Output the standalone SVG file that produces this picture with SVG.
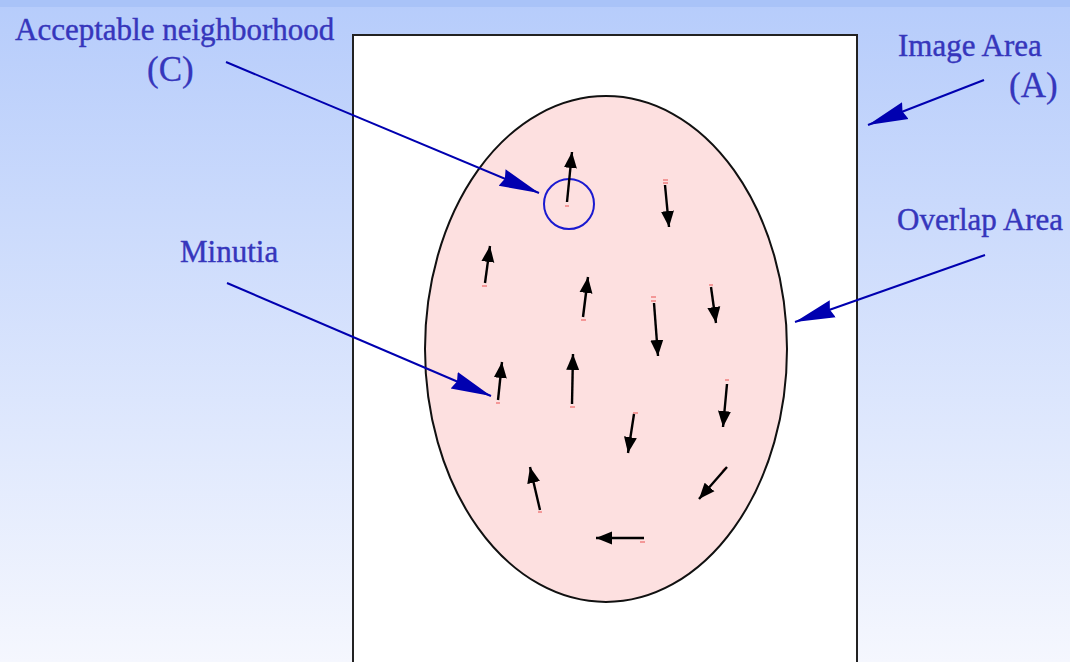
<svg xmlns="http://www.w3.org/2000/svg" width="1070" height="662" viewBox="0 0 1070 662">
<style>
.lbl{font-family:"Liberation Serif","Times New Roman",serif;fill:#3636bc;stroke:#3636bc;stroke-width:0.4;font-size:31px}
.par{font-family:"Liberation Serif","Times New Roman",serif;fill:#3636bc;stroke:#3636bc;stroke-width:0.3;font-size:35px}
.conn{stroke:#0000b0;stroke-width:2;fill:none;marker-end:url(#bigHead)}
.min{stroke:#000;stroke-width:2.4;fill:none;marker-end:url(#minHead)}
.tail{stroke:#f08080;stroke-width:1.5;fill:none}
</style>
<defs>
<linearGradient id="bg" x1="0" y1="0" x2="0" y2="1">
<stop offset="0" stop-color="#b6ccfb"/>
<stop offset="1" stop-color="#f5f7fe"/>
</linearGradient>
<marker id="bigHead" viewBox="0 0 40 20" refX="40" refY="10" markerWidth="40" markerHeight="20" markerUnits="userSpaceOnUse" orient="auto">
<path d="M0,1 L40,10 L0,19 L3,10 z" fill="#0000b0"/>
</marker>
<marker id="minHead" viewBox="0 0 16 14" refX="16" refY="7" markerWidth="16" markerHeight="14" markerUnits="userSpaceOnUse" orient="auto">
<path d="M0,0.5 L16,7 L0,13.5 z" fill="#000"/>
</marker>
</defs>
<rect x="0" y="0" width="1070" height="662" fill="url(#bg)"/>
<rect x="0" y="0" width="1070" height="7" fill="#a9c3f8"/>
<g id="image-area">
<rect x="353" y="35" width="504" height="640" fill="#fff" stroke="#222" stroke-width="2"/>
</g>
<g id="overlap-area">
<ellipse cx="606" cy="349" rx="181" ry="253" fill="#fde0e0" stroke="#111" stroke-width="2"/>
</g>
<g id="neighborhood">
<circle cx="569" cy="204" r="25" fill="none" stroke="#1a1ad0" stroke-width="2"/>
</g>
<g id="minutiae">
<path class="tail" d="M565,206 h4"/><path class="min" d="M567,202 L572,152"/>
<path class="tail" d="M663,180 h5 M663,183 h5"/><path class="min" d="M665,185 L669,227"/>
<path class="tail" d="M482,286 h5"/><path class="min" d="M485,283 L490,246"/>
<path class="tail" d="M581,320 h5"/><path class="min" d="M583,317 L588,277"/>
<path class="tail" d="M651,297 h5 M651,301 h5"/><path class="min" d="M654,303 L658,356"/>
<path class="tail" d="M709,285 h4"/><path class="min" d="M711,287 L716,323"/>
<path class="tail" d="M496,403 h4"/><path class="min" d="M498,400 L502,362"/>
<path class="tail" d="M570,407 h5"/><path class="min" d="M572,404 L573,354"/>
<path class="tail" d="M633,413 h5"/><path class="min" d="M634,414 L628,453"/>
<path class="tail" d="M725,380 h4"/><path class="min" d="M727,384 L723,427"/>
<path class="tail" d="M538,512 h4"/><path class="min" d="M540,510 L530,467"/>
<path class="tail" d="M722,471 l3,-3"/><path class="min" d="M727,467 L699,499"/>
<path class="tail" d="M640,542 h5"/><path class="min" d="M644,538 L596,538"/>
</g>
<g id="labels">
<text class="lbl" x="15" y="40">Acceptable neighborhood</text>
<text class="par" x="147" y="81">(C)</text>
<text class="lbl" x="898" y="56">Image Area</text>
<text class="par" x="1009" y="97">(A)</text>
<text class="lbl" x="897" y="230">Overlap Area</text>
<text class="lbl" x="180" y="262">Minutia</text>
</g>
<g id="connectors">
<path class="conn" d="M226,62 L539,193"/>
<path class="conn" d="M984,80 L868,125"/>
<path class="conn" d="M985,255 L795,322"/>
<path class="conn" d="M227,283 L491,396"/>
</g>
</svg>
